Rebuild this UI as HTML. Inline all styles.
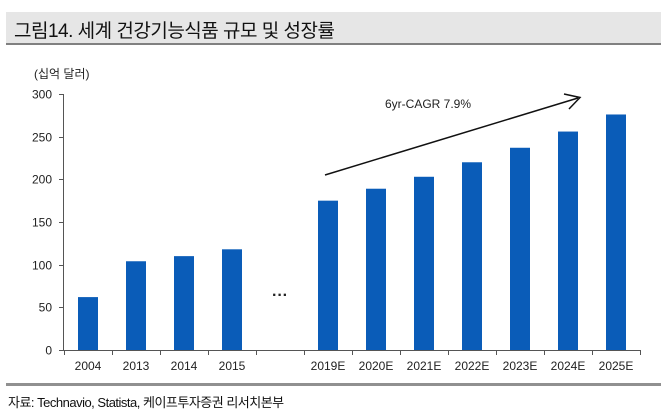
<!DOCTYPE html>
<html><head><meta charset="utf-8"><style>
body{margin:0;width:661px;height:416px;background:#fff;overflow:hidden;font-family:"Liberation Sans","Noto Sans CJK KR",sans-serif;}
#title{position:absolute;left:6px;top:12px;width:655px;height:31px;background:#e6e6e6;border-bottom:2px solid #808080;}
#title span{position:absolute;left:8px;top:4px;font-size:19px;color:#111;letter-spacing:-0.5px}
#foot{position:absolute;left:6px;top:383px;width:655px;height:3px;background:#909090}
#src{position:absolute;left:8px;top:392px;font-size:13px;color:#111;letter-spacing:-0.5px}
</style></head><body>
<div id="title"><span>그림14. 세계 건강기능식품 규모 및 성장률</span></div>
<svg id="chart" width="661" height="416" style="position:absolute;left:0;top:0"></svg>
<div id="foot"></div>
<div id="src">자료: Technavio, Statista, 케이프투자증권 리서치본부</div>
<script>
const categories=["2004","2013","2014","2015","","2019E","2020E","2021E","2022E","2023E","2024E","2025E"];
const values=[62,104,110,118,null,175,189,203,220,237,256,276];
const yTicks=[0,50,100,150,200,250,300];
const svg=document.getElementById('chart');
const NS='http://www.w3.org/2000/svg';
const x0=64,x1=640,y0=350,y1=94,yMax=300;
const bw=(x1-x0)/categories.length;
const y=v=>y0-(v/yMax)*(y0-y1);
const xc=i=>x0+bw*(i+0.5);
function mk(t,a,txt){const e=document.createElementNS(NS,t);for(const k in a)e.setAttribute(k,a[k]);if(txt!=null)e.textContent=txt;svg.appendChild(e);return e;}
let e;
e=mk('text',{x:34,y:78,'font-size':12,fill:'#222'},'(십억 달러)');


e=mk('line',{x1:x0-0.5,y1:y1,x2:x0-0.5,y2:y0,stroke:'#555'});


e=mk('line',{x1:x0-5,y1:y0+0.5,x2:x1,y2:y0+0.5,stroke:'#555'});


yTicks.forEach(t=>{
 const yy=Math.round(y(t))+0.5;
 e=mk('line',{x1:x0-5,y1:yy,x2:x0,y2:yy,stroke:'#555'});
 
 
 e=mk('text',{x:x0-12,y:yy+4,'font-size':12,fill:'#222','text-anchor':'end'},t);
 
 
});
for(let i=0;i<=categories.length;i++){
 const xx=Math.round(x0+bw*i)+0.5;
 e=mk('line',{x1:xx,y1:y0,x2:xx,y2:y0+5,stroke:'#555'});
 
 
}
categories.forEach((c,i)=>{
 if(c){
 e=mk('text',{x:xc(i),y:370,'font-size':12,fill:'#222','text-anchor':'middle'},c);
 
 
 }
 if(values[i]!=null){
 e=mk('rect',{x:xc(i)-10,y:y(values[i]),width:20,height:y0-y(values[i]),fill:'#0a5cb8'});
 
 
 }
});
e=mk('text',{x:xc(4),y:300,'font-size':16,fill:'#222','text-anchor':'middle','font-weight':'bold'},'···');


e=mk('line',{x1:325,y1:175,x2:578,y2:98,stroke:'#111','stroke-width':1.5});


e=mk('polyline',{points:'564,94 580,97.5 569,109',fill:'none',stroke:'#111','stroke-width':1.5});


e=mk('text',{x:385,y:108,'font-size':12,fill:'#222'},'6yr-CAGR 7.9%');


</script>
</body></html>
